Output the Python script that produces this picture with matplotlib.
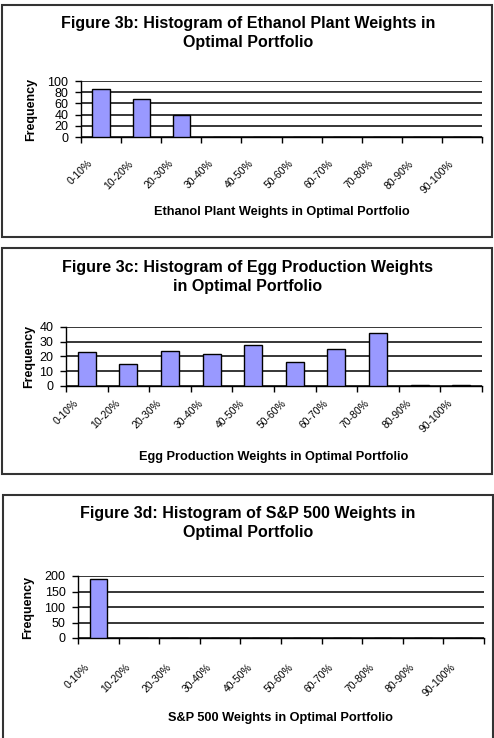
import matplotlib.pyplot as plt
from matplotlib.patches import Rectangle
from matplotlib.transforms import ScaledTranslation

plt.rcParams['font.family'] = ['Liberation Sans', 'DejaVu Sans']

# Datos
rangos = ["0-10%", "10-20%", "20-30%", "30-40%", "40-50%",
          "50-60%", "60-70%", "70-80%", "80-90%", "90-100%"]
etanol = [86, 67, 39, 0, 0, 0, 0, 0, 0, 0]
huevos = [23, 15, 24, 22, 28, 16, 25, 36, 0.4, 0.4]
sp500 = [189, 0, 0, 0, 0, 0, 0, 0, 0, 0]

titulos = ["Figure 3b: Histogram of Ethanol Plant Weights in\nOptimal Portfolio",
           "Figure 3c: Histogram of Egg Production Weights\nin Optimal Portfolio",
           "Figure 3d: Histogram of S&P 500 Weights in\nOptimal Portfolio"]
etiquetas_x = ["Ethanol Plant Weights in Optimal Portfolio",
               "Egg Production Weights in Optimal Portfolio",
               "S&P 500 Weights in Optimal Portfolio"]
yticks = [[0, 20, 40, 60, 80, 100], [0, 10, 20, 30, 40], [0, 50, 100, 150, 200]]

W, H = 494, 738
fig = plt.figure(figsize=(W / 100, H / 100), dpi=100)


def px(x0, y0, x1, y1):
    # rectangulo en pixeles (origen arriba) -> fraccion de figura
    return [x0 / W, 1 - y1 / H, (x1 - x0) / W, (y1 - y0) / H]


paneles = [
    # caja, ejes, titulo y, xlabel y, pad etiquetas, x de "Frequency"
    dict(caja=(2, 5, 492, 237), ejes=(81, 81, 482, 137), ty=33, xy=212, pad=18, fy=31),
    dict(caja=(2, 248, 492, 474), ejes=(66, 327, 482, 386), ty=277, xy=457, pad=11, fy=29),
    dict(caja=(3, 495, 493, 745), ejes=(78, 576, 484, 638), ty=523, xy=718, pad=20, fy=28),
]
series = [etanol, huevos, sp500]

for i, p in enumerate(paneles):
    x0, y0, x1, y1 = p["caja"]
    fig.patches.append(Rectangle((x0 / W, 1 - y1 / H), (x1 - x0) / W, (y1 - y0) / H,
                                 transform=fig.transFigure, fill=False,
                                 edgecolor="#333333", linewidth=1.5))
    fig.text(248 / W, 1 - p["ty"] / H, titulos[i], ha="center", va="center",
             fontsize=11.5, fontweight="bold", linespacing=1.4)

    ax = fig.add_axes(px(*p["ejes"]))
    pos = list(range(len(rangos)))
    ax.bar(pos, series[i], width=0.43, color="#9999FF", edgecolor="black",
           linewidth=1, zorder=3)
    ax.set_xlim(-0.5, 9.5)
    ax.set_ylim(yticks[i][0], yticks[i][-1])
    ax.set_yticks(yticks[i])
    ax.tick_params(axis="y", labelsize=9, length=4, width=1, pad=5)
    ax.grid(axis="y", color="black", linewidth=1.1, zorder=1)

    ax.set_xticks(pos)
    ax.set_xticklabels(rangos, fontsize=7.5, rotation=45, ha="right",
                       rotation_mode="anchor", va="center")
    ax.set_xticks([b - 0.5 for b in range(11)], minor=True)
    ax.tick_params(axis="x", which="major", length=0, pad=p["pad"])
    ax.tick_params(axis="x", which="minor", length=4, width=1)
    for lab in ax.get_xticklabels():
        lab.set_transform(lab.get_transform() + ScaledTranslation(-0.10, 0, fig.dpi_scale_trans))

    ax.spines["top"].set_visible(False)
    ax.spines["right"].set_visible(False)
    ax.spines["left"].set_linewidth(1)
    ax.spines["bottom"].set_linewidth(1)

    ex0, ey0, ex1, ey1 = p["ejes"]
    fig.text((ex0 + ex1) / 2 / W, 1 - p["xy"] / H, etiquetas_x[i], ha="center",
             va="center", fontsize=9.2, fontweight="bold")
    fig.text(p["fy"] / W, 1 - (ey0 + ey1) / 2 / H, "Frequency", ha="center",
             va="center", rotation=90, fontsize=9, fontweight="bold")

fig.savefig("out.png", dpi=100)
